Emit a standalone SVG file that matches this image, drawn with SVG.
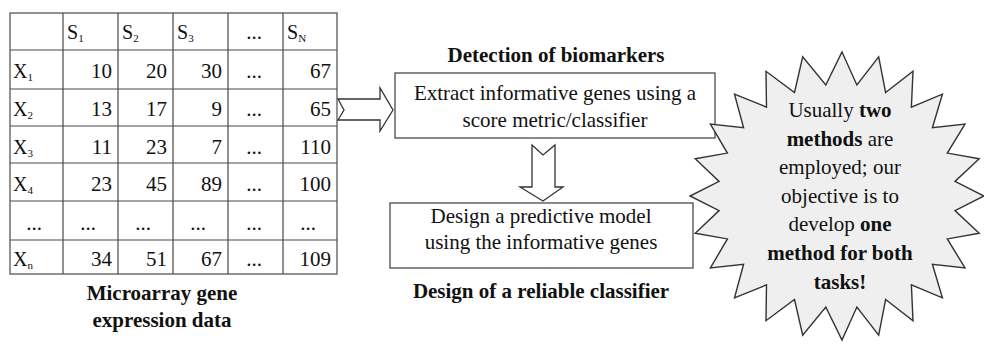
<svg xmlns="http://www.w3.org/2000/svg" width="984" height="350" viewBox="0 0 984 350" font-family="'Liberation Serif', 'Times New Roman', serif">
<style>
  text { font-family: 'Liberation Serif', 'Times New Roman', serif; }
  .t { font-size: 21px; fill: #111; }
  .b { font-weight: bold; }
  .grid { stroke: #4a4a4a; stroke-width: 1.2; fill: none; }
  .box { fill: #fff; stroke: #4a4a4a; stroke-width: 1.3; }
  .blk { fill: #fff; stroke: #333; stroke-width: 1.3; stroke-linejoin: miter; }
  .star { fill: #efefef; stroke: #333; stroke-width: 1.4; stroke-linejoin: miter; }
  .num { text-anchor: end; }
  .mid { text-anchor: middle; }
</style>
<rect width="984" height="350" fill="#fff"/>

<g id="table">
  <rect class="grid" x="10" y="13" width="327" height="261" fill="#fff"/>
  <path class="grid" d="M63 13V274M118 13V274M173 13V274M228 13V274M283 13V274M10 50H337M10 89H337M10 126H337M10 163H337M10 201H337M10 240H337"/>
  <g class="t">
    <text x="67" y="39" font-size="20">S<tspan font-size="11" dy="3">1</tspan></text>
    <text x="122" y="39" font-size="20">S<tspan font-size="11" dy="3">2</tspan></text>
    <text x="177" y="39" font-size="20">S<tspan font-size="11" dy="3">3</tspan></text>
    <text x="254" y="39" class="mid">...</text>
    <text x="287" y="39" font-size="20">S<tspan font-size="11" dy="3">N</tspan></text>

    <text x="13" y="78" font-size="20">X<tspan font-size="11" dy="3">1</tspan></text>
    <text x="112" y="78" class="num">10</text><text x="167" y="78" class="num">20</text><text x="222" y="78" class="num">30</text><text x="254" y="78" class="mid">...</text><text x="331" y="78" class="num">67</text>

    <text x="13" y="116" font-size="20">X<tspan font-size="11" dy="3">2</tspan></text>
    <text x="112" y="116" class="num">13</text><text x="167" y="116" class="num">17</text><text x="222" y="116" class="num">9</text><text x="254" y="116" class="mid">...</text><text x="331" y="116" class="num">65</text>

    <text x="13" y="154" font-size="20">X<tspan font-size="11" dy="3">3</tspan></text>
    <text x="112" y="154" class="num">11</text><text x="167" y="154" class="num">23</text><text x="222" y="154" class="num">7</text><text x="254" y="154" class="mid">...</text><text x="331" y="154" class="num">110</text>

    <text x="13" y="191" font-size="20">X<tspan font-size="11" dy="3">4</tspan></text>
    <text x="112" y="191" class="num">23</text><text x="167" y="191" class="num">45</text><text x="222" y="191" class="num">89</text><text x="254" y="191" class="mid">...</text><text x="331" y="191" class="num">100</text>

    <text x="34" y="230" class="mid">...</text><text x="88" y="230" class="mid">...</text><text x="143" y="230" class="mid">...</text><text x="198" y="230" class="mid">...</text><text x="254" y="230" class="mid">...</text><text x="308" y="230" class="mid">...</text>

    <text x="13" y="266" font-size="20">X<tspan font-size="11" dy="3">n</tspan></text>
    <text x="112" y="266" class="num">34</text><text x="167" y="266" class="num">51</text><text x="222" y="266" class="num">67</text><text x="254" y="266" class="mid">...</text><text x="331" y="266" class="num">109</text>
  </g>
  <text class="t b mid" x="162" y="300" font-size="23.5">Microarray gene</text>
  <text class="t b mid" x="162" y="327" font-size="23.5">expression data</text>
</g>

<g id="connectors">
  <path class="blk" d="M338 99H380V88L393 110L380 131V120H338L344 110Z"/>
  <path class="blk" d="M532 145L543 155L555 145V187H563L543 201L520 187H532Z"/>
</g>

<g id="detection">
  <text class="t b mid" x="556" y="62" font-size="19">Detection of biomarkers</text>
  <rect class="box" x="395" y="73" width="320" height="65"/>
  <text class="t mid" x="555" y="100">Extract informative genes using a</text>
  <text class="t mid" x="555" y="127">score metric/classifier</text>
</g>

<g id="design">
  <rect class="box" x="390" y="203" width="303" height="65"/>
  <text class="t mid" x="541" y="223">Design a predictive model</text>
  <text class="t mid" x="541" y="249">using the informative genes</text>
  <text class="t b mid" x="541" y="298" font-size="23">Design of a reliable classifier</text>
</g>

<g id="starburst">
  <polygon class="star" points="842,52 856.9,85 878.7,56.9 885.6,92.5 913,71.3 911.4,107.1 942.4,94.2 932.4,127.8 965,124 947.3,153.1 979.2,158.7 955,181.4 984,196 955,210.6 979.2,233.3 947.3,238.9 965,268 932.4,264.2 942.4,297.8 911.4,284.9 913,320.7 885.6,299.5 878.7,335.1 856.9,307 842,340 825.8,307 802.7,335.1 794.5,299.5 766,320.7 766.5,284.9 734.5,297.8 743.6,264.2 710.4,268 727.4,238.9 695.2,233.3 719.1,210.6 690,196 719.1,181.4 695.2,158.7 727.4,153.1 710.4,124 743.6,127.8 734.5,94.2 766.5,107.1 766,71.3 794.5,92.5 802.7,56.9 825.8,85"/>
  <g class="t mid" font-size="22">
    <text x="840" y="117">Usually <tspan class="b">two</tspan></text>
    <text x="840" y="146"><tspan class="b">methods</tspan> are</text>
    <text x="840" y="174">employed; our</text>
    <text x="840" y="203">objective is to</text>
    <text x="840" y="231">develop <tspan class="b">one</tspan></text>
    <text x="840" y="260" class="b">method for both</text>
    <text x="840" y="289" class="b">tasks!</text>
  </g>
</g>
</svg>
